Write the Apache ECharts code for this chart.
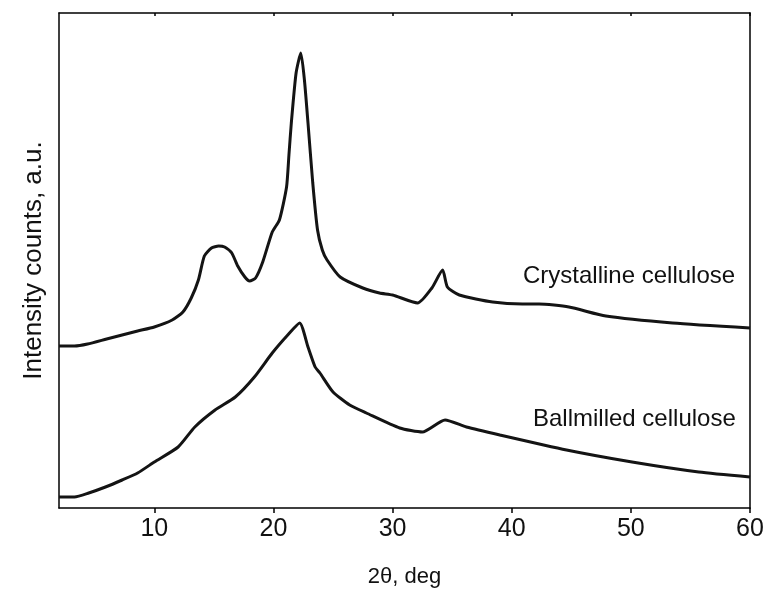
<!DOCTYPE html>
<html lang="en">
<head>
    <meta charset="UTF-8">
    <title>XRD cellulose</title>
    <script src="https://cdn.jsdelivr.net/npm/echarts@6/dist/echarts.min.js"></script>
    <style>
      html, body { margin: 0; padding: 0; background: #fff; }
    </style>
</head>
<body>
<div id="main" style="width: 770px;height:590px;"></div>

<script>
// x 轴刻度
var tickValues = [10, 20, 30, 40, 50, 60];

// Crystalline cellulose (2θ, intensity a.u.)
var thetaCryst = [2, 3.3, 4.4, 6, 7.3, 8.6, 10, 11.5, 12.4, 13.1, 13.7, 14.2, 14.8, 15.4, 15.9, 16.5, 17, 17.6, 18, 18.5,
  19.1, 19.9, 20.5, 21.1, 21.3, 21.5, 21.9, 22.3, 22.6, 22.9, 23.3, 23.7, 24.1, 24.5, 25.6, 27.5, 28.9, 30, 32.1, 33.3,
  34.2, 34.6, 35.6, 38.4, 40.9, 42.3, 44.8, 47.9, 53.5, 60];
var intCryst = [162, 162, 164, 169, 173, 177, 181, 188, 196, 210, 228, 252, 260, 262, 261, 255, 242, 231, 227, 230,
  246, 276, 288, 321, 353, 385, 435, 455, 428, 385, 325, 278, 258, 248, 231, 220, 215, 213, 205, 220,
  238, 221, 213, 206, 204, 204, 201, 192, 185, 180];

// Ballmilled cellulose
var thetaBall = [2, 3.3, 4.5, 5.9, 7.3, 8.6, 10, 12, 13.4, 15.1, 16.8, 18.4, 19.9, 21.2, 22.2, 22.9, 23.5, 23.9, 25,
  26.4, 27.8, 30.6, 32.5, 34.4, 36.2, 39, 44.6, 50.1, 55.7, 60];
var intBall = [11, 11, 15, 21, 28, 35, 46, 61, 81, 98, 111, 131, 155, 173, 185, 161, 141, 135, 116,
  103, 95, 80, 76, 88, 81, 73, 58, 46, 36, 31];

var seriesNames = ['Crystalline cellulose', 'Ballmilled cellulose'];

function pairs(xs, ys) {
  var out = [];
  for (var i = 0; i < xs.length; i++) out.push([xs[i], ys[i]]);
  return out;
}

var font = "'Liberation Sans', Arial, sans-serif";
var myChart = echarts.init(document.getElementById('main'));

var axisLine = { show: true, onZero: false, lineStyle: { color: '#000', width: 1.5 } };

var option = {
  backgroundColor: '#fff',
  animation: false,
  grid: { left: 59, right: 20, top: 13, bottom: 82, containLabel: false, outerBoundsMode: 'none' },
  xAxis: [
    {
      type: 'value', min: 2, max: 60, position: 'bottom',
      name: '2θ, deg', nameLocation: 'middle', nameGap: 58,
      nameTextStyle: { fontFamily: font, fontSize: 22, color: '#111' },
      axisLine: axisLine,
      axisTick: { show: true, inside: false, length: 5, customValues: tickValues, lineStyle: { color: '#000', width: 1.5 } },
      axisLabel: { customValues: tickValues, margin: 9, fontFamily: font, fontSize: 25, color: '#111' },
      splitLine: { show: false }
    },
    {
      type: 'value', min: 2, max: 60, position: 'top',
      axisLine: axisLine,
      axisTick: { show: true, inside: true, length: 3, customValues: tickValues, lineStyle: { color: '#000', width: 1.5 } },
      axisLabel: { show: false },
      splitLine: { show: false }
    }
  ],
  yAxis: [
    {
      type: 'value', min: 0, max: 495, position: 'left',
      name: 'Intensity counts, a.u.', nameLocation: 'middle', nameGap: 12,
      nameTextStyle: { fontFamily: font, fontSize: 26, color: '#111' },
      axisLine: axisLine,
      axisTick: { show: false },
      axisLabel: { show: false },
      splitLine: { show: false }
    },
    {
      type: 'value', min: 0, max: 495, position: 'right',
      axisLine: axisLine,
      axisTick: { show: false },
      axisLabel: { show: false },
      splitLine: { show: false }
    }
  ],
  graphic: [
    { type: 'text', left: 523, top: 264, style: { text: seriesNames[0], font: '24px ' + font, fill: '#111' } },
    { type: 'text', left: 533, top: 407, style: { text: seriesNames[1], font: '24px ' + font, fill: '#111' } }
  ],
  series: [
    {
      name: seriesNames[0], type: 'line', showSymbol: false, smooth: 0.2,
      data: pairs(thetaCryst, intCryst),
      lineStyle: { color: '#141414', width: 3 }
    },
    {
      name: seriesNames[1], type: 'line', showSymbol: false, smooth: 0.2,
      data: pairs(thetaBall, intBall),
      lineStyle: { color: '#141414', width: 3 }
    }
  ]
};
myChart.setOption(option);
</script>
</body>
</html>
